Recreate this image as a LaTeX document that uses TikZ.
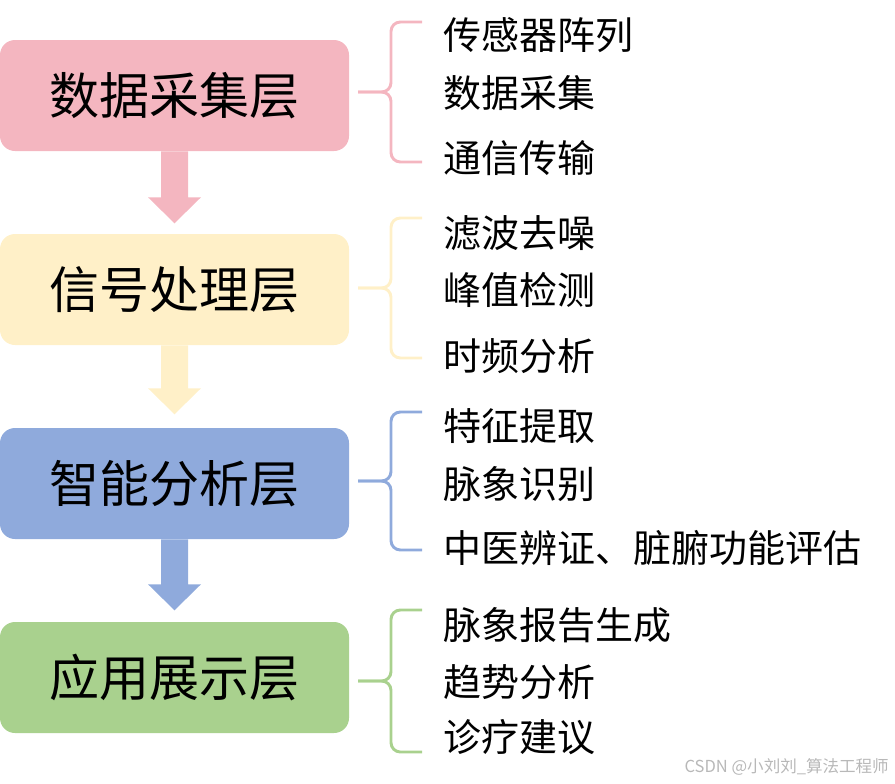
\documentclass[tikz,border=0pt]{standalone}
\usepackage{fontspec}
\setmainfont{Noto Sans CJK SC}
\usepackage{tikz}
\usetikzlibrary{calc}

\definecolor{pinkL}{RGB}{244,182,192}
\definecolor{yellowL}{RGB}{255,240,200}
\definecolor{blueL}{RGB}{143,170,220}
\definecolor{greenL}{RGB}{169,209,142}

\tikzset{
    layer/.style={rounded corners=11.25pt, minimum width=261.75pt, minimum height=83.25pt,
        inner sep=0pt, font=\fontsize{37.5pt}{40pt}\selectfont},
    item/.style={anchor=west, inner sep=0pt, font=\fontsize{28.5pt}{30pt}\selectfont},
    brace/.style={line width=2.2pt, rounded corners=7pt}
}

\begin{document}
\begin{tikzpicture}[x=0.75pt,y=-0.75pt]
        \useasboundingbox (0,0) rectangle (895,783);

        \node[layer, fill=pinkL] (acq) at (174.5,95.5) {数据采集层};
        \node[layer, fill=yellowL] (sig) at (174.5,289.5) {信号处理层};
        \node[layer, fill=blueL] (ana) at (174.5,483.5) {智能分析层};
        \node[layer, fill=greenL] (app) at (174.5,677.5) {应用展示层};

        \fill[pinkL] (acq.south) ++(-13.5,0) -- ++(0,46) -- ++(-13,0) -- ++(26.5,26) -- ++(26.5,-26) -- ++(-13,0) -- ++(0,-46) -- cycle;
        \fill[yellowL] (sig.south) ++(-13.5,0) -- ++(0,43) -- ++(-13,0) -- ++(26.5,26) -- ++(26.5,-26) -- ++(-13,0) -- ++(0,-43) -- cycle;
        \fill[blueL] (ana.south) ++(-13.5,0) -- ++(0,45) -- ++(-13,0) -- ++(26.5,26) -- ++(26.5,-26) -- ++(-13,0) -- ++(0,-45) -- cycle;

        \coordinate (b1) at (358,92);
        \coordinate (b2) at (358,288);
        \coordinate (b3) at (358,481);
        \coordinate (b4) at (358,681);

        \draw[brace, pinkL] (b1) -- ++(33,0) -- ++(0,-70) -- ++(31,0);
        \draw[brace, pinkL] (b1) -- ++(33,0) -- ++(0,70) -- ++(31,0);
        \draw[brace, yellowL] (b2) -- ++(33,0) -- ++(0,-70) -- ++(31,0);
        \draw[brace, yellowL] (b2) -- ++(33,0) -- ++(0,70) -- ++(31,0);
        \draw[brace, blueL] (b3) -- ++(33,0) -- ++(0,-69) -- ++(31,0);
        \draw[brace, blueL] (b3) -- ++(33,0) -- ++(0,69) -- ++(31,0);
        \draw[brace, greenL] (b4) -- ++(33,0) -- ++(0,-71) -- ++(31,0);
        \draw[brace, greenL] (b4) -- ++(33,0) -- ++(0,71) -- ++(31,0);

        \node[item] (acq1) at (443,35) {传感器阵列};
        \node[item] (acq2) at (443,93) {数据采集};
        \node[item] (acq3) at (443,158) {通信传输};

        \node[item] (sig1) at (443,233) {滤波去噪};
        \node[item] (sig2) at (443,290) {峰值检测};
        \node[item] (sig3) at (443,356) {时频分析};

        \node[item] (ana1) at (443,426) {特征提取};
        \node[item] (ana2) at (443,484) {脉象识别};
        \node[item] (ana3) at (443,548) {中医辨证、脏腑功能评估};

        \node[item] (app1) at (443,625) {脉象报告生成};
        \node[item] (app2) at (443,682) {趋势分析};
        \node[item] (app3) at (443,737) {诊疗建议};

        \node[anchor=east, inner sep=0pt, text=black!28, font=\fontsize{12.4pt}{14pt}\selectfont] (mark) at (889,767) {CSDN @小刘刘\_算法工程师};

    \end{tikzpicture}
\end{document}
